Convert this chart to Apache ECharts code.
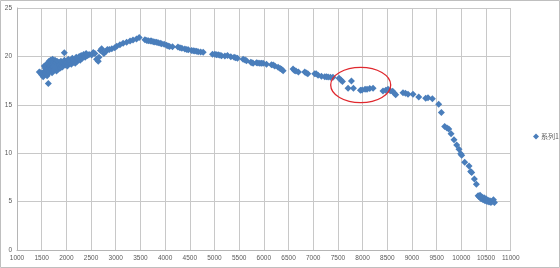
<!DOCTYPE html>
<html><head><meta charset="utf-8">
<script src="https://cdn.jsdelivr.net/npm/echarts@6/dist/echarts.min.js"></script>
<style>html,body{margin:0;padding:0;background:#fff}#c{width:560px;height:268px}</style>
</head><body><div id="c"></div>
<script>
const seriesName = '系列1';
const xTicks = [1000,1500,2000,2500,3000,3500,4000,4500,5000,5500,6000,6500,7000,7500,8000,8500,9000,9500,10000,10500,11000];
const yTicks = [0,5,10,15,20,25];
const xVals = [
1452,1480,1500,1530,1553,1560,1570,1580,1590,1600,1610,1620,1634,1640,1650,1660,1670,1680,1690,1700,
1710,1720,1730,1740,1750,1760,1770,1780,1790,1800,1810,1820,1840,1850,1860,1880,1890,1900,1920,1940,
1958,1960,1980,2000,2020,2040,2060,2080,2100,2120,2140,2160,2180,2200,2220,2240,2260,2280,2300,2320,
2350,2380,2400,2430,2460,2511,2545,2578,2612,2646,2660,2690,2714,2760,2800,2830,2870,2920,2980,3020,
3085,3150,3220,3290,3350,3420,3475,3591,3630,3660,3700,3726,3760,3793,3830,3860,3900,3930,3980,4030,
4060,4090,4150,4260,4300,4340,4400,4440,4470,4536,4570,4603,4640,4670,4720,4771,4960,5008,5040,5075,
5110,5143,5210,5264,5331,5398,5430,5466,5580,5620,5649,5736,5760,5783,5851,5880,5918,5950,5985,6054,
6155,6190,6222,6289,6330,6357,6390,6592,6620,6650,6700,6829,6860,6890,7031,7060,7098,7167,7234,7268,
7302,7349,7400,7524,7560,7592,7706,7774,7815,7956,7990,8050,8090,8145,8212,8414,8470,8515,8560,8610,
8644,8671,8819,8868,8920,9021,9137,9278,9325,9413,9542,9596,9663,9710,9745,9792,9852,9906,9953,9987,
10007,10068,10156,10190,10210,10264,10305,10340,10360,10380,10400,10420,10440,10460,10480,10500,10520,10540,10560,10580,
10600,10620,10650,10670
];
const yVals = [
18.4,18.3,18.1,17.9,19.0,18.5,18.8,18.2,19.1,18.6,18.0,19.3,17.2,18.8,19.5,18.4,19.0,19.6,18.7,19.3,
18.3,19.7,18.9,19.4,18.6,19.1,19.6,18.8,19.3,18.5,19.5,19.0,18.7,19.4,19.1,18.8,19.5,19.0,18.9,19.3,
20.38,19.6,19.1,19.4,19.0,19.7,19.3,19.5,19.2,19.8,19.4,19.6,19.3,19.9,19.5,19.7,20.0,19.6,20.1,19.8,
20.2,19.9,20.3,20.1,20.2,20.14,20.4,20.3,19.7,19.5,19.9,20.6,20.8,20.3,20.5,20.7,20.7,20.8,20.9,21.05,
21.2,21.35,21.45,21.6,21.7,21.8,21.95,21.73,21.65,21.62,21.6,21.58,21.52,21.5,21.45,21.42,21.35,21.3,21.25,21.15,
21.08,21.03,21.0,20.98,20.9,20.83,20.76,20.72,20.68,20.62,20.58,20.55,20.52,20.48,20.45,20.42,20.22,20.22,20.17,20.17,
20.12,20.08,20.04,20.1,19.97,19.9,19.86,19.8,19.7,19.62,19.56,19.4,19.35,19.28,19.35,19.32,19.28,19.3,19.28,19.2,
19.15,19.1,19.02,18.87,18.75,18.66,18.52,18.7,18.55,18.5,18.4,18.38,18.28,18.2,18.2,18.22,18.05,17.95,17.9,17.9,
17.86,17.84,17.84,17.73,17.55,17.4,16.7,17.46,16.7,16.5,16.53,16.6,16.6,16.68,16.72,16.42,16.5,16.6,16.45,16.4,
16.2,16.05,16.25,16.2,16.08,16.1,15.8,15.67,15.73,15.62,15.05,14.2,12.75,12.6,12.5,12.0,11.4,10.85,10.4,9.95,
9.8,9.06,8.68,8.1,8.0,7.33,6.8,5.6,5.5,5.65,5.3,5.45,5.2,5.4,5.1,5.3,5.0,5.15,4.95,5.1,
4.9,5.0,5.2,4.9
];
const pts = xVals.map((x,i)=>[x,yVals[i]]);
const chart = echarts.init(document.getElementById('c'), null, {renderer:'canvas'});
const lbl = {color:'#595959', fontSize:6.5, fontFamily:'Liberation Sans'};
chart.setOption({
  animation:false,
  backgroundColor:'#fff',
  grid:{left:17, right:49.3, top:8, bottom:18, containLabel:false},
  xAxis:{type:'value', min:xTicks[0], max:xTicks[xTicks.length-1], interval:500,
    axisLine:{show:true, onZero:false, lineStyle:{color:'#b5b5b5'}},
    axisTick:{show:false},
    axisLabel:{...lbl, margin:5, formatter:v=>String(v)},
    splitLine:{show:true, lineStyle:{color:'#c8c8c8'}}},
  yAxis:{type:'value', min:yTicks[0], max:yTicks[yTicks.length-1], interval:5,
    axisLine:{show:true, lineStyle:{color:'#b5b5b5'}},
    axisTick:{show:false},
    axisLabel:{...lbl, margin:5, formatter:v=>String(v)},
    splitLine:{show:true, lineStyle:{color:'#c8c8c8'}}},
  legend:{show:true, data:[seriesName], orient:'vertical', left:528, top:128,
    icon:'diamond', itemWidth:6, itemHeight:6, itemGap:2,
    textStyle:{color:'#595959', fontSize:7, fontFamily:'Noto Sans CJK SC', padding:[0,0,0,-3]}},
  series:[{name:seriesName, type:'scatter', symbol:'diamond', symbolSize:7,
    itemStyle:{color:'#4a7ebb', opacity:1}, data:pts}],
  graphic:[
    {type:'rect', silent:true, shape:{x:0.5,y:0.5,width:559,height:267}, style:{fill:null, stroke:'#bfbfbf', lineWidth:1}},
    {type:'ellipse', silent:true, z:100, shape:{cx:360.7, cy:85, rx:30, ry:17.7}, style:{fill:null, stroke:'#e0282e', lineWidth:1.3}}
  ]
});
</script></body></html>
